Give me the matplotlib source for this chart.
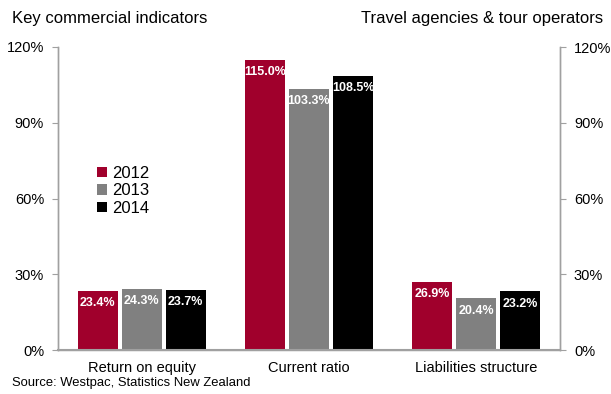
import matplotlib.pyplot as plt
import numpy as np

plt.rcParams['font.family'] = ['Liberation Sans', 'DejaVu Sans']

categories = ['Return on equity', 'Current ratio', 'Liabilities structure']
years = ['2012', '2013', '2014']
values = {
    '2012': [23.4, 115.0, 26.9],
    '2013': [24.3, 103.3, 20.4],
    '2014': [23.7, 108.5, 23.2],
}
colors = {'2012': '#A0002C', '2013': '#808080', '2014': '#000000'}
yticks = [0, 30, 60, 90, 120]

fig = plt.figure(figsize=(6.11, 3.94), dpi=100)
ax = fig.add_axes([58 / 611, 1 - 350 / 394, 502 / 611, 303 / 394])

x = np.arange(len(categories))
w = 0.24
step = 0.263
for i, yr in enumerate(years):
    pos = x + (i - 1) * step
    bars = ax.bar(pos, values[yr], width=w, color=colors[yr], label=yr, zorder=2)
    for b, v in zip(bars, values[yr]):
        ax.text(b.get_x() + b.get_width() / 2, v - 2.5, '%.1f%%' % v,
                ha='center', va='top', color='white', fontsize=9,
                fontweight='bold')

ax.set_xlim(-0.5, 2.5)
ax.set_ylim(0, 120)
ax.set_xticks(x)
ax.set_xticklabels(categories, fontsize=10.5)
ax.tick_params(axis='x', length=0, pad=8)
ax.set_yticks(yticks)
ax.set_yticklabels(['%d%%' % t for t in yticks], fontsize=10.5)
ax.tick_params(axis='y', direction='out', length=4, color='#A0A0A0', pad=6)

ax2 = ax.twinx()
ax2.set_ylim(0, 120)
ax2.set_yticks(yticks)
ax2.set_yticklabels(['%d%%' % t for t in yticks], fontsize=10.5)
ax2.tick_params(axis='y', direction='out', length=4, color='#A0A0A0', pad=6)

for a in (ax, ax2):
    a.spines['top'].set_visible(False)
    for s in ('left', 'right', 'bottom'):
        a.spines[s].set_color('#A0A0A0')
        a.spines[s].set_linewidth(1.0)
ax.spines['bottom'].set_linewidth(1.5)

ax.legend(loc='upper left', bbox_to_anchor=(0.065, 0.63), frameon=False,
          fontsize=12, handlelength=0.6, handleheight=0.6, handletextpad=0.3,
          labelspacing=0.15, borderaxespad=0)

fig.text(12 / 611, 1 - 18 / 394, 'Key commercial indicators', fontsize=12,
         va='center', ha='left')
fig.text(603 / 611, 1 - 18 / 394, 'Travel agencies & tour operators',
         fontsize=12, va='center', ha='right')
fig.text(12 / 611, 1 - 383 / 394, 'Source: Westpac, Statistics New Zealand',
         fontsize=9.4, va='center', ha='left')

fig.savefig('out.png', dpi=100)
